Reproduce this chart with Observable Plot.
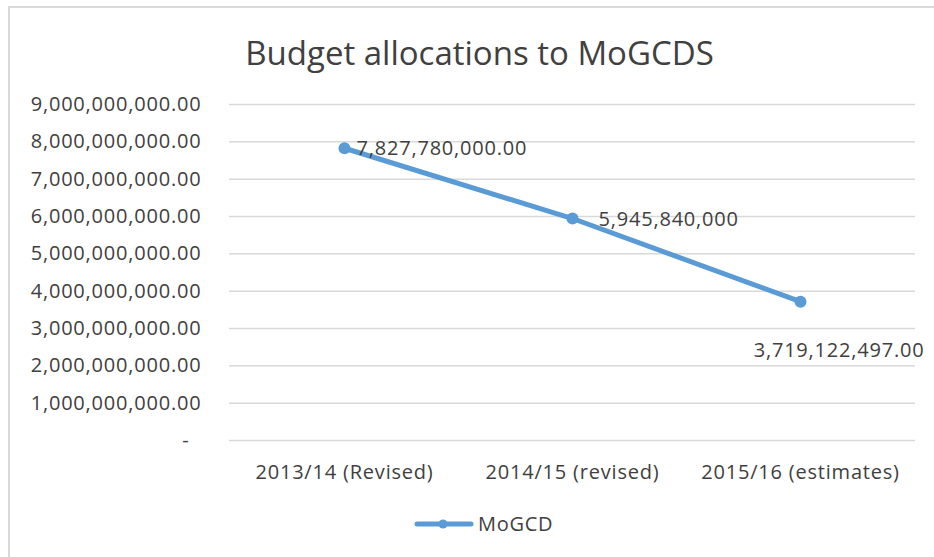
<!DOCTYPE html>
<html>
<head>
<meta charset="utf-8">
<script src="https://cdn.jsdelivr.net/npm/d3@7"></script>
<script src="https://cdn.jsdelivr.net/npm/@observablehq/plot@0.6"></script>
<style>
  body { margin: 0; background: #fff; overflow: hidden; }
  #wrap { position: relative; width: 934px; height: 557px; overflow: hidden; font-family: "Open Sans", sans-serif; color: #404040; }
  #frame { position: absolute; left: 8px; top: 6px; width: 960px; height: 600px; border: 2px solid #d9d9d9; box-sizing: border-box; }
  #title { position: absolute; left: 0; width: 959px; top: 36px; line-height: 1; text-align: center; font-size: 33px; color: #404040; }
  #chart { position: absolute; left: 0; top: 0; }
  #legend { position: absolute; left: 414px; top: 510px; display: flex; align-items: center; font-size: 20px; letter-spacing: 0.7px; color: #404040; }
</style>
</head>
<body>
<div id="wrap">
  <div id="frame"></div>
  <div id="chart"></div>
  <div id="title">Budget allocations to MoGCDS</div>
  <div id="legend"></div>
</div>
<script>
const categories = ["2013/14 (Revised)", "2014/15 (revised)", "2015/16 (estimates)"];
const values = [7827780000, 5945840000, 3719122497];
const valueLabels = ["7,827,780,000.00", "5,945,840,000", "3,719,122,497.00"];
const yTicks = [0, 1e9, 2e9, 3e9, 4e9, 5e9, 6e9, 7e9, 8e9, 9e9];
const seriesName = "MoGCD";

const data = categories.map((c, i) => ({cat: c, value: values[i], label: valueLabels[i]}));
const color = "#5b9bd5";
const fmt = d => d === 0 ? "-\u00a0\u00a0" : d3.format(",.2f")(d);

const plot = Plot.plot({
  width: 934,
  height: 557,
  marginTop: 104,
  marginBottom: 117,
  marginLeft: 229,
  marginRight: 19,
  style: {fontFamily: "Open Sans, sans-serif", fontSize: "20px", letterSpacing: "0.8px", color: "#404040", background: "transparent"},
  x: {type: "band", domain: categories, label: null, padding: 0},
  y: {domain: [0, 9e9], label: null},
  marks: [
    Plot.gridY(yTicks, {stroke: "#d9d9d9", strokeOpacity: 1, strokeWidth: 1.5}),
    Plot.axisY(yTicks, {tickSize: 0, tickPadding: 28, tickFormat: fmt, fontSize: 20, fill: "#404040", label: null}),
    Plot.axisX({tickSize: 0, tickPadding: 24, fontSize: 20, fill: "#404040", label: null}),
    Plot.line(data, {x: "cat", y: "value", stroke: color, strokeWidth: 5}),
    Plot.dot(data, {x: "cat", y: "value", r: 6, fill: color}),
    Plot.text([data[0]], {x: "cat", y: "value", text: "label", textAnchor: "start", dx: 12, dy: 0, fontSize: 20, fill: "#404040"}),
    Plot.text([data[1]], {x: "cat", y: "value", text: "label", textAnchor: "start", dx: 26, dy: 1, fontSize: 20, fill: "#404040"}),
    Plot.text([data[2]], {x: "cat", y: "value", text: "label", textAnchor: "end", dx: 124, dy: 49, fontSize: 20, fill: "#404040"})
  ]
});
document.getElementById("chart").appendChild(plot);

const lg = document.getElementById("legend");
lg.innerHTML = `<svg width="60" height="14"><line x1="3" y1="7" x2="57" y2="7" stroke="${color}" stroke-width="5" stroke-linecap="round"/><circle cx="29" cy="7" r="4.5" fill="${color}"/></svg><span style="margin-left:4px">${seriesName}</span>`;
</script>
</body>
</html>
